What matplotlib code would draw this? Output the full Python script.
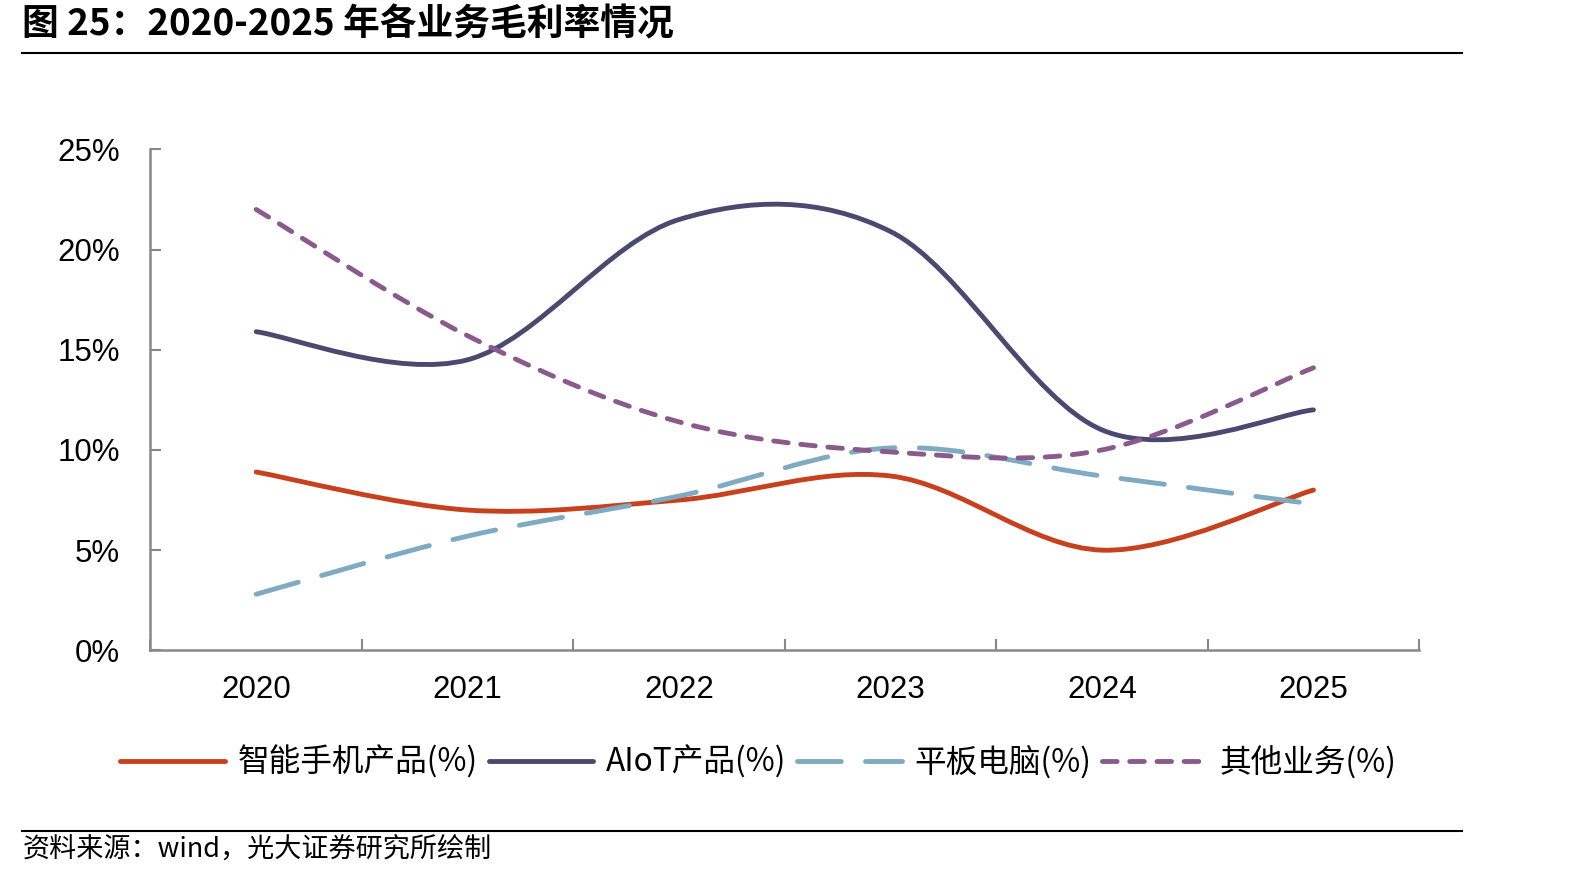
import matplotlib
matplotlib.use('Agg')
import matplotlib.pyplot as plt
from matplotlib.path import Path
from matplotlib.patches import PathPatch
from matplotlib.lines import Line2D

years = ['2020', '2021', '2022', '2023', '2024', '2025']
phone = [8.9, 7.0, 7.5, 8.7, 5.0, 8.0]
aiot = [15.9, 14.5, 21.5, 20.9, 11.0, 12.0]
tablet = [2.8, 5.7, 7.7, 10.1, 8.7, 7.3]
other = [22.0, 15.7, 11.4, 9.9, 10.0, 14.1]

labels = ['智能手机产品(%)', 'AIoT产品(%)', '平板电脑(%)', '其他业务(%)']
colors = ['#C8411E', '#4A4A70', '#7EABC2', '#8A5A8D']
styles = ['-', '-', (0, (9, 5)), (0, (3.0, 2.6))]

cjk = ['Noto Sans CJK SC', 'DejaVu Sans']
plt.rcParams['font.family'] = cjk

W, H = 1568, 867  # layout measured on this scale


def smooth_path(ys):
    # Excel-like smoothed line: cubic bezier segments through every point
    xs = list(range(len(ys)))
    pts = list(zip(xs, ys))
    n = len(pts)
    verts = [pts[0]]
    codes = [Path.MOVETO]
    for i in range(n - 1):
        p0 = pts[max(i - 1, 0)]
        p1 = pts[i]
        p2 = pts[i + 1]
        p3 = pts[min(i + 2, n - 1)]
        c1 = (p1[0] + (p2[0] - p0[0]) / 6, p1[1] + (p2[1] - p0[1]) / 6)
        c2 = (p2[0] - (p3[0] - p1[0]) / 6, p2[1] - (p3[1] - p1[1]) / 6)
        verts += [c1, c2, p2]
        codes += [Path.CURVE4] * 3
    return Path(verts, codes)


fig = plt.figure(figsize=(15.94, 8.81), dpi=100)
ax = fig.add_axes([148 / W, 1 - 640 / H, 1248 / W, 493 / H])

handles = []
for ys, lab, col, ls in zip([phone, aiot, tablet, other], labels, colors, styles):
    patch = PathPatch(smooth_path(ys), fill=False, edgecolor=col, lw=3.5,
                      linestyle=ls, capstyle='round')
    ax.add_patch(patch)
    handles.append(Line2D([], [], color=col, lw=3.5, linestyle=ls,
                          dash_capstyle='round', solid_capstyle='round'))

ax.set_xlim(-0.5, 5.5)
ax.set_ylim(0, 25)
ax.set_xticks(range(len(years)))
ax.set_xticklabels(years, family='Liberation Sans', fontsize=22.5)
ax.set_xticks([i - 0.5 for i in range(len(years) + 1)], minor=True)
ax.tick_params(axis='x', which='major', length=0, pad=18)
ax.tick_params(axis='x', which='minor', direction='in', length=8, width=1.5, color='#888888')
ax.set_yticks([0, 5, 10, 15, 20, 25])
ax.set_yticklabels([f'{v}%' for v in [0, 5, 10, 15, 20, 25]], family='Liberation Sans', fontsize=22.5)
ax.tick_params(axis='y', direction='in', length=8, width=1.5, color='#888888', pad=22)
for s in ['top', 'right']:
    ax.spines[s].set_visible(False)
for s in ['left', 'bottom']:
    ax.spines[s].set_color('#888888')
    ax.spines[s].set_linewidth(1.8)

fig.legend(handles, labels, loc='center', bbox_to_anchor=(746 / W, 1 - 750 / H),
           ncol=4, frameon=False, handlelength=3.3, handletextpad=0.4,
           columnspacing=0.35, prop={'family': cjk, 'size': 22.8})

fig.text(22 / W, 1 - 25 / H, '图 25：2020-2025 年各业务毛利率情况', fontsize=26.5,
         fontweight='bold', va='center', ha='left')
fig.add_artist(Line2D([22 / W, 1438 / W], [1 - 52 / H, 1 - 52 / H], color='black', lw=1.5))
fig.add_artist(Line2D([22 / W, 1438 / W], [1 - 818 / H, 1 - 818 / H], color='black', lw=1.5))
fig.text(22 / W, 1 - 837 / H, '资料来源：wind，光大证券研究所绘制', fontsize=19.5,
         va='center', ha='left')

plt.savefig('out.png', dpi=100)
